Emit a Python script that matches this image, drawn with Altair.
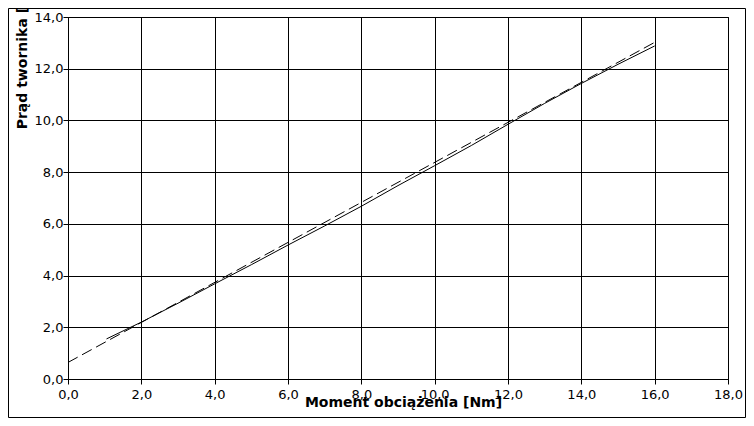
import altair as alt
import pandas as pd

# Measured curve (solid)
meas_x = [1.05, 2, 3, 4, 5, 6, 7, 8, 9, 10, 11, 12, 13, 14, 15, 16]
meas_y = [1.55, 2.2, 2.93, 3.68, 4.42, 5.18, 5.92, 6.68, 7.48, 8.25, 9.03, 9.85, 10.66, 11.43, 12.17, 12.88]

# Trend line (dashed)
trend_x = [0, 16]
trend_y = [0.64, 13.02]

x_ticks = [0, 2, 4, 6, 8, 10, 12, 14, 16, 18]
y_ticks = [0, 2, 4, 6, 8, 10, 12, 14]

W, H = 660, 362
PL, PT = 60, 9
TOTAL_W, TOTAL_H = 738, 410

meas = pd.DataFrame({"x": meas_x, "y": meas_y})
trend = pd.DataFrame({"x": trend_x, "y": trend_y})

xs = alt.Scale(domain=[0, 18], nice=False, zero=False)
ys = alt.Scale(domain=[0, 14], nice=False, zero=False)

x_axis = alt.Axis(
    values=x_ticks, labelExpr="replace(format(datum.value, '.1f'), '.', ',')",
    title="Moment obciążenia [Nm]", titleFontWeight="bold", titleFontSize=14,
    titleFont="DejaVu Sans", titleColor="black",
    titleX=335, titleY=27, titleBaseline="alphabetic",
    labelFont="DejaVu Sans", labelFontSize=13, labelColor="black",
    labelBaseline="top", labelPadding=4, tickSize=5, tickColor="black",
    domainColor="black", gridColor="black", gridWidth=1, grid=True, labelFlush=False,
)
y_axis = alt.Axis(
    values=y_ticks, labelExpr="replace(format(datum.value, '.1f'), '.', ',')",
    title="Prąd twornika [A]", titleFontWeight="bold", titleFontSize=14,
    titleFont="DejaVu Sans", titleColor="black", titleAngle=270,
    titleX=-41.5, titleY=42, titleBaseline="alphabetic", titleAlign="center",
    labelFont="DejaVu Sans", labelFontSize=13, labelColor="black",
    labelPadding=0, tickSize=5, tickColor="black",
    domainColor="black", gridColor="black", gridWidth=1, grid=True, labelFlush=False,
)

solid = alt.Chart(meas).mark_line(color="black", strokeWidth=1).encode(
    x=alt.X("x:Q", scale=xs, axis=x_axis),
    y=alt.Y("y:Q", scale=ys, axis=y_axis),
)
dashed = alt.Chart(trend).mark_line(color="black", strokeWidth=1, strokeDash=[11, 5]).encode(
    x=alt.X("x:Q", scale=xs),
    y=alt.Y("y:Q", scale=ys),
)
frame = alt.Chart(pd.DataFrame({"a": [0]})).mark_rect(
    fill=None, stroke="black", strokeWidth=1
).encode(
    x=alt.value(-PL + 0.5), x2=alt.value(TOTAL_W - PL - 0.5),
    y=alt.value(-PT + 0.5), y2=alt.value(TOTAL_H - PT - 0.5),
)

chart = alt.layer(frame, solid, dashed).properties(
    width=W, height=H,
    autosize=alt.AutoSizeParams(type="none"),
    padding={"left": PL, "top": PT, "right": TOTAL_W - PL - W, "bottom": TOTAL_H - PT - H},
    background="white",
).configure_view(stroke="black", strokeWidth=1)

chart.save("out.html", embed_options={"renderer": "svg", "actions": False})
